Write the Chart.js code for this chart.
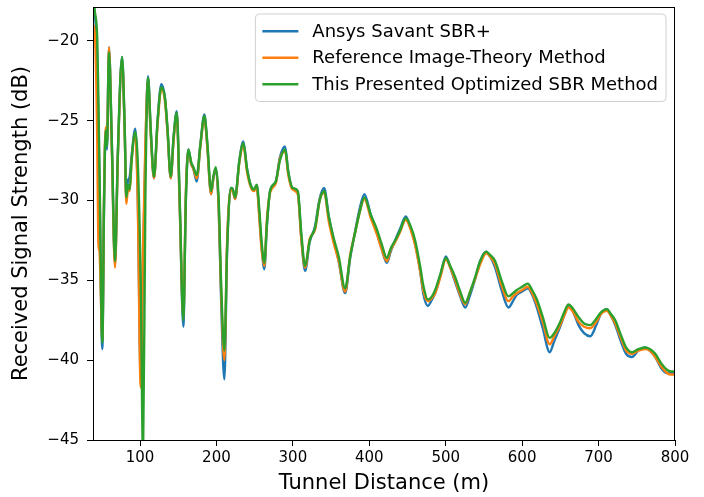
<!DOCTYPE html>
<html>
<head>
<meta charset="utf-8">
<script src="https://cdn.jsdelivr.net/npm/chart.js@4"></script>
<style>
  html, body { margin: 0; padding: 0; background: #fff; }
  #wrap { width: 704px; height: 497px; }
</style>
</head>
<body>
<div id="wrap"><canvas id="signalChart" width="704" height="497"></canvas></div>
<script>
// Tunnel distance (m), shared by all three curves
const distance = [
  39, 41, 44, 45.5, 47, 50.7, 53, 55.1, 56.8, 59.4,
  63, 67.3, 71, 76.5, 80, 82.1, 84, 86.5, 89, 93.9,
  97, 100.9, 104, 107, 110.5, 114, 118.3, 123, 127.9, 132.7,
  136, 140.2, 144, 148.1, 152, 156.7, 160, 163.3, 167, 169.8,
  174.2, 179, 184.2, 188, 193, 196, 199.1, 203, 206, 210.4,
  214, 219.1, 221.5, 224.4, 230, 235.2, 240, 245.3, 249, 252.8,
  256, 259, 262.7, 266, 270.2, 277.7, 283, 289.8, 294, 299.4,
  306.5, 311, 316, 322, 329.1, 335, 340.9, 347, 353.1, 360,
  368.4, 375, 381.5, 387, 393.6, 402, 409.9, 416, 423, 428,
  433.8, 440, 447.8, 454, 460, 466.5, 471, 476.6, 482, 486.2,
  493, 500.2, 506, 512.4, 519, 525.5, 532, 538.5, 545, 552.9,
  558, 564.7, 573, 582.1, 588, 593.1, 600, 607.5, 613, 619.3,
  627, 636, 642, 649.8, 655, 660.7, 667, 673.8, 681, 689.1,
  697, 703, 710.9, 716, 721.8, 729, 736, 743.7, 752, 761.1,
  767, 774.2, 782, 789.5, 795, 800
];

// Received signal strength (dB)
const savantSBR = [
  -17.8, -18.3, -21.0, -25.0, -29.0, -39.3, -30.0, -25.6, -26.8, -20.4,
  -26.2, -34.0, -27.2, -21.0, -25.6, -30.0, -28.8, -28.5, -27.2, -25.5,
  -29.5, -41.0, -34.0, -27.0, -22.2, -25.6, -28.6, -25.0, -22.7, -23.6,
  -25.6, -28.6, -26.0, -24.4, -30.3, -37.9, -29.8, -26.8, -27.7, -28.0,
  -28.8, -26.5, -24.6, -26.5, -29.6, -28.6, -28.0, -30.5, -36.0, -41.2,
  -33.0, -29.2, -29.3, -29.9, -27.5, -26.3, -28.0, -29.1, -29.3, -29.1,
  -30.8, -32.8, -34.3, -31.6, -29.4, -28.8, -27.3, -26.6, -28.2, -29.2,
  -29.5, -32.3, -34.4, -32.6, -31.6, -29.9, -29.2, -31.0, -32.4, -33.8,
  -35.8, -33.6, -31.9, -30.6, -29.6, -30.9, -32.0, -33.0, -33.9, -33.2,
  -32.5, -31.8, -31.0, -31.7, -32.7, -34.4, -35.9, -36.6, -36.2, -35.8,
  -34.7, -33.5, -34.2, -35.1, -36.0, -36.7, -35.9, -34.9, -33.8, -33.2,
  -33.5, -34.2, -35.6, -36.7, -36.3, -35.9, -35.7, -35.5, -35.9, -36.7,
  -38.0, -39.5, -38.8, -37.9, -37.2, -36.6, -37.0, -37.8, -38.3, -38.5,
  -37.8, -37.1, -36.8, -37.2, -37.8, -38.8, -39.6, -39.8, -39.4, -39.2,
  -39.4, -39.8, -40.5, -40.8, -40.8, -40.8
];

const imageTheory = [
  -19.0, -19.6, -26.0, -32.6, -33.2, -38.7, -29.5, -25.4, -26.4, -20.4,
  -26.5, -34.2, -27.3, -21.2, -25.8, -30.2, -29.4, -29.4, -27.5, -25.8,
  -30.0, -41.7, -33.0, -26.5, -22.4, -25.8, -28.6, -25.2, -23.0, -23.8,
  -25.7, -28.6, -26.2, -24.6, -30.5, -37.3, -29.5, -26.9, -27.7, -28.0,
  -28.6, -26.6, -24.8, -26.6, -29.6, -28.6, -28.0, -30.5, -35.5, -40.0,
  -32.5, -29.3, -29.4, -29.9, -27.6, -26.5, -28.2, -29.2, -29.4, -29.2,
  -31.0, -33.0, -34.1, -31.2, -29.5, -28.9, -27.4, -26.9, -28.4, -29.3,
  -29.6, -32.4, -34.2, -32.4, -31.8, -30.0, -29.5, -31.3, -32.6, -33.8,
  -35.7, -33.4, -32.0, -30.8, -29.9, -31.1, -32.1, -33.0, -33.8, -33.1,
  -32.6, -32.0, -31.2, -31.8, -32.8, -34.4, -35.7, -36.3, -36.1, -35.8,
  -34.8, -33.7, -34.2, -35.0, -35.9, -36.5, -35.7, -34.9, -34.0, -33.3,
  -33.5, -34.0, -35.3, -36.3, -36.0, -35.8, -35.6, -35.4, -35.8, -36.5,
  -37.6, -39.0, -38.5, -37.8, -37.2, -36.7, -37.0, -37.6, -37.9, -38.0,
  -37.6, -37.1, -36.9, -37.2, -37.7, -38.6, -39.4, -39.6, -39.4, -39.3,
  -39.4, -39.8, -40.4, -40.8, -40.9, -40.9
];

const optimizedSBR = [
  -17.3, -18.2, -19.8, -23.5, -28.0, -38.9, -30.0, -25.6, -26.6, -20.7,
  -26.0, -33.8, -27.0, -21.0, -25.5, -29.8, -29.0, -29.3, -27.5, -25.7,
  -27.5, -35.0, -46.0, -30.0, -22.3, -25.5, -28.5, -25.0, -22.9, -23.6,
  -25.5, -28.5, -26.0, -24.5, -30.0, -37.5, -30.0, -26.8, -27.6, -27.9,
  -28.4, -26.5, -24.7, -26.3, -29.4, -28.5, -27.9, -30.0, -35.0, -39.4,
  -33.0, -29.2, -29.3, -29.8, -27.5, -26.4, -28.0, -29.1, -29.3, -29.0,
  -30.5, -32.5, -33.9, -31.5, -29.4, -28.8, -27.5, -26.8, -28.2, -29.2,
  -29.4, -32.0, -34.1, -32.5, -31.7, -30.0, -29.4, -31.0, -32.3, -33.5,
  -35.5, -33.5, -32.0, -30.8, -29.8, -30.9, -31.8, -32.7, -33.6, -33.0,
  -32.5, -31.9, -31.1, -31.6, -32.5, -34.1, -35.4, -36.2, -36.0, -35.6,
  -34.6, -33.6, -34.1, -34.8, -35.7, -36.4, -35.7, -34.8, -33.8, -33.2,
  -33.4, -33.8, -35.0, -36.0, -35.8, -35.6, -35.4, -35.2, -35.6, -36.2,
  -37.3, -38.6, -38.3, -37.6, -37.0, -36.5, -36.8, -37.3, -37.7, -37.8,
  -37.4, -37.0, -36.8, -37.1, -37.5, -38.4, -39.2, -39.5, -39.3, -39.2,
  -39.3, -39.6, -40.2, -40.6, -40.7, -40.7
];

const seriesLabels = [
  "Ansys Savant SBR+",
  "Reference Image-Theory Method",
  "This Presented Optimized SBR Method"
];
const seriesColors = ["#1f77b4", "#ff7f0e", "#2ca02c"];
const xTicks = [100, 200, 300, 400, 500, 600, 700, 800];
const yTicks = [-45, -40, -35, -30, -25, -20];

const FONT = "'DejaVu Sans', sans-serif";
const minus = v => (v < 0 ? "\u2212" + Math.abs(v) : String(v));

function series(values) {
  return distance.map((d, i) => ({ x: d, y: values[i] }));
}

// matplotlib-style legend inside the axes, upper right
const innerLegend = {
  id: "innerLegend",
  afterDraw(chart) {
    const ctx = chart.ctx;
    const area = chart.chartArea;
    ctx.save();
    ctx.font = "18px " + FONT;
    let textW = 0;
    seriesLabels.forEach(t => { textW = Math.max(textW, ctx.measureText(t).width); });
    const rowH = 26.5;
    const boxW = 7 + 36 + 14 + textW + 8;
    const boxH = rowH * seriesLabels.length + 8;
    const bx = area.right - 9 - boxW;
    const by = area.top + 7;
    ctx.beginPath();
    ctx.roundRect(bx, by, boxW, boxH, 4);
    ctx.fillStyle = "rgba(255,255,255,0.85)";
    ctx.fill();
    ctx.strokeStyle = "#d0d0d0";
    ctx.lineWidth = 1;
    ctx.stroke();
    seriesLabels.forEach((t, i) => {
      const y = by + 4 + rowH * (i + 0.5);
      ctx.beginPath();
      ctx.moveTo(bx + 7, y);
      ctx.lineTo(bx + 43, y);
      ctx.strokeStyle = seriesColors[i];
      ctx.lineWidth = 2.4;
      ctx.stroke();
      ctx.fillStyle = "#000";
      ctx.textBaseline = "middle";
      ctx.fillText(t, bx + 57, y + 1);
    });
    // axes frame
    ctx.strokeStyle = "#000";
    ctx.lineWidth = 1;
    ctx.strokeRect(area.left + 0.5, area.top + 0.5, area.right - area.left - 1, area.bottom - area.top);
    ctx.restore();
  }
};

const ctx = document.getElementById("signalChart").getContext("2d");
new Chart(ctx, {
  type: "line",
  data: {
    datasets: [
      { label: seriesLabels[0], data: series(savantSBR), borderColor: seriesColors[0], order: 3 },
      { label: seriesLabels[1], data: series(imageTheory), borderColor: seriesColors[1], order: 2 },
      { label: seriesLabels[2], data: series(optimizedSBR), borderColor: seriesColors[2], order: 1 }
    ]
  },
  options: {
    responsive: false,
    animation: false,
    devicePixelRatio: 1,
    datasets: {
      line: {
        borderWidth: 2.4,
        pointRadius: 0,
        fill: false,
        cubicInterpolationMode: "monotone"
      }
    },
    layout: { padding: { left: 0, top: 7, right: 29, bottom: 0 } },
    plugins: { legend: { display: false }, tooltip: { enabled: false } },
    scales: {
      x: {
        type: "linear",
        min: 38.5,
        max: 800,
        afterBuildTicks: s => { s.ticks = xTicks.map(v => ({ value: v })); },
        afterFit: s => { s.height = 57; s.paddingLeft = 0; s.paddingRight = 0; },
        grid: { drawOnChartArea: false, drawTicks: true, tickLength: 6, color: "#000" },
        border: { display: true, color: "#000" },
        ticks: { color: "#000", padding: 3, maxRotation: 0, font: { family: FONT, size: 15 } },
        title: {
          display: true,
          text: "Tunnel Distance (m)",
          color: "#000",
          font: { family: FONT, size: 21 },
          padding: { top: 0, bottom: 1 }
        }
      },
      y: {
        min: -45,
        max: -17.87,
        afterBuildTicks: s => { s.ticks = yTicks.map(v => ({ value: v })); },
        afterFit: s => { s.width = 93; s.paddingTop = 0; s.paddingBottom = 0; },
        grid: { drawOnChartArea: false, drawTicks: true, tickLength: 6, color: "#000" },
        border: { display: true, color: "#000" },
        ticks: { color: "#000", padding: 8, callback: v => minus(v), font: { family: FONT, size: 15 } },
        title: {
          display: true,
          text: "Received Signal Strength (dB)",
          color: "#000",
          font: { family: FONT, size: 21 },
          padding: { top: 9, bottom: 0 }
        }
      }
    }
  },
  plugins: [innerLegend]
});
</script>
</body>
</html>
